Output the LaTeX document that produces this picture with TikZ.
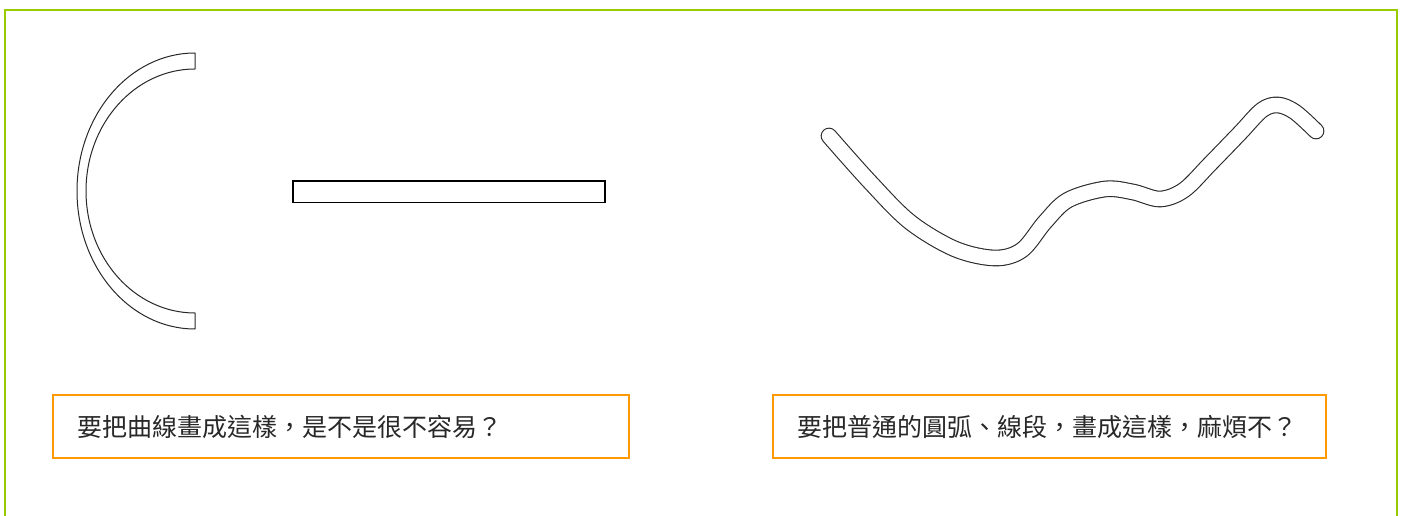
\documentclass[tikz,border=0pt]{standalone}
\usepackage{fontspec}
\newfontfamily\cjk{Noto Sans CJK TC}
\definecolor{framegreen}{RGB}{153,204,0}
\definecolor{boxorange}{RGB}{255,153,0}
\definecolor{inkgray}{RGB}{40,40,40}
\begin{document}
\begin{tikzpicture}[x=1pt,y=1pt,
  outline/.style={draw=inkgray, line width=1pt, line join=round},
  tube/.style={draw=inkgray, line width=1.1pt, double=white, double distance=14.5pt, line cap=round, line join=round},
  textbox/.style={draw=boxorange, line width=2pt, minimum width=#1, minimum height=63pt,
    inner xsep=24pt, text width=#1-48pt, align=left, font=\cjk\fontsize{25}{28}\selectfont, text=inkgray}]
\useasboundingbox (0,0) rectangle (1403,-516);
\clip (0,0) rectangle (1403,-516);
% outer frame
\draw[framegreen, line width=2pt] (5,-530) -- (5,-10) -- (1397,-10) -- (1397,-530);
% C-shaped band
\draw[outline] (195,-53) arc[start angle=90, end angle=270, x radius=118pt, y radius=138pt]
  -- (195,-313) arc[start angle=270, end angle=90, x radius=109pt, y radius=122pt] -- cycle;
% straight band
\draw[draw=black, line width=1.5pt] (293,-181) rectangle (605,-202.5);
% wavy band
\draw[tube] plot[smooth, tension=0.55] coordinates {
  (829,-136) (870,-182) (910,-222) (955,-249) (995,-258) (1022,-250)
  (1045,-222) (1068,-200) (1105,-189) (1133,-192) (1160,-199) (1184,-190)
  (1210,-164) (1240,-133) (1262,-110) (1278,-105) (1295,-112) (1316,-131)};
% captions
\node[textbox=576pt] (capA) at (341,-426.5) {要把曲線畫成這樣，是不是很不容易？};
\node[textbox=553pt] (capB) at (1049.5,-426.5) {要把普通的圓弧、線段，畫成這樣，麻煩不？};
\end{tikzpicture}
\end{document}
